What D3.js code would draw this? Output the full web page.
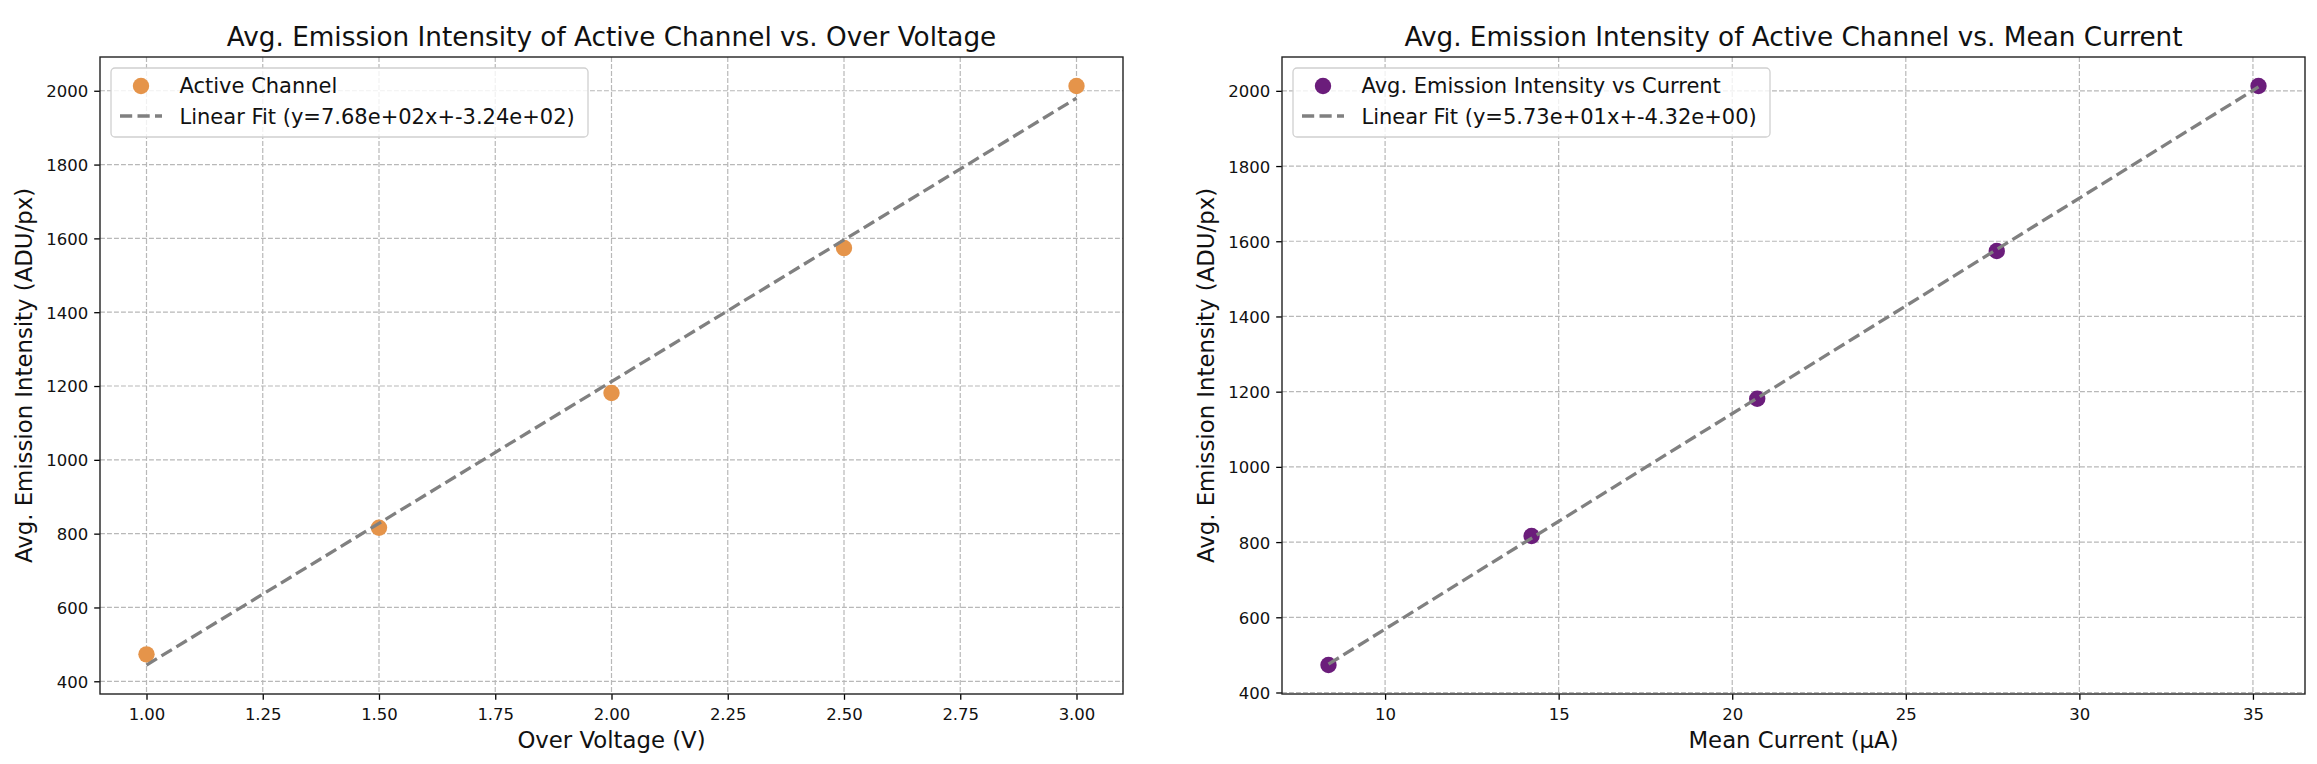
<!DOCTYPE html>
<html>
<head>
<meta charset="utf-8">
<script src="https://cdn.jsdelivr.net/npm/d3@7"></script>
<style>
  html, body { margin: 0; padding: 0; background: #fff; }
  svg { display: block; font-family: "DejaVu Sans", sans-serif; }
</style>
</head>
<body>
<svg id="chart" width="2317" height="764"></svg>
<script>
// ---------------- DATA ----------------
const overVoltage = [1.0, 1.5, 2.0, 2.5, 3.0];
const meanCurrent = [8.37, 14.22, 20.72, 27.62, 35.16];
const intensity = [473, 816, 1181, 1574, 2013];

const fitVoltage = [768, -324];     // slope, intercept
const fitCurrent = [57.3, -4.32];   // slope, intercept

const xTicksVoltage = [1.00, 1.25, 1.50, 1.75, 2.00, 2.25, 2.50, 2.75, 3.00];
const xTicksCurrent = [10, 15, 20, 25, 30, 35];
const yTicks = [400, 600, 800, 1000, 1200, 1400, 1600, 1800, 2000];

const titles = ["Avg. Emission Intensity of Active Channel vs. Over Voltage",
                "Avg. Emission Intensity of Active Channel vs. Mean Current"];
const xLabels = ["Over Voltage (V)", "Mean Current (\u00b5A)"];
const yLabel = "Avg. Emission Intensity (ADU/px)";
const pointLabels = ["Active Channel", "Avg. Emission Intensity vs Current"];
const fitLabels = ["Linear Fit (y=7.68e+02x+-3.24e+02)", "Linear Fit (y=5.73e+01x+-4.32e+00)"];
const pointColors = ["#e5944a", "#6b1d7b"];

// ---------------- LAYOUT ----------------
const svg = d3.select("#chart");
const panels = [
  {x0: 100, x1: 1123, y0: 57, y1: 694, xs: overVoltage, fit: fitVoltage, xticks: xTicksVoltage, fmt: d3.format(".2f"), legW: 477},
  {x0: 1282, x1: 2305, y0: 57, y1: 694, xs: meanCurrent, fit: fitCurrent, xticks: xTicksCurrent, fmt: d3.format("d"), legW: 477}
];

function pad(ext, frac) {
  const r = ext[1] - ext[0];
  return [ext[0] - r * frac, ext[1] + r * frac];
}

panels.forEach((p, i) => {
  const xExt = d3.extent(p.xs);
  const fitY = xExt.map(x => p.fit[0] * x + p.fit[1]);
  const yExt = d3.extent(intensity.concat(fitY));
  const x = d3.scaleLinear().domain(pad(xExt, 0.05)).range([p.x0, p.x1]);
  const y = d3.scaleLinear().domain(pad(yExt, 0.05)).range([p.y1, p.y0]);

  const g = svg.append("g");

  // grid
  g.append("g").selectAll("line").data(p.xticks).join("line")
    .attr("x1", d => x(d)).attr("x2", d => x(d))
    .attr("y1", p.y0).attr("y2", p.y1)
    .attr("stroke", "#b8b8b8").attr("stroke-width", 1.2)
    .attr("stroke-dasharray", "4.9,2.1");
  g.append("g").selectAll("line").data(yTicks).join("line")
    .attr("x1", p.x0).attr("x2", p.x1)
    .attr("y1", d => y(d)).attr("y2", d => y(d))
    .attr("stroke", "#b8b8b8").attr("stroke-width", 1.2)
    .attr("stroke-dasharray", "4.9,2.1");

  // points
  g.append("g").selectAll("circle").data(intensity).join("circle")
    .attr("cx", (d, k) => x(p.xs[k])).attr("cy", d => y(d))
    .attr("r", 8.2).attr("fill", pointColors[i]);

  // fit line
  const line = d3.line().x(d => x(d[0])).y(d => y(d[1]));
  g.append("path")
    .datum(xExt.map((xv, k) => [xv, fitY[k]]))
    .attr("d", line)
    .attr("fill", "none").attr("stroke", "#808080")
    .attr("stroke-width", 3.3).attr("stroke-dasharray", "12.2,5.3");

  // axes
  const xAxis = d3.axisBottom(x).tickValues(p.xticks).tickFormat(p.fmt)
    .tickSize(5.8).tickSizeOuter(0).tickPadding(8.6);
  const ax = g.append("g").attr("transform", `translate(0,${p.y1})`).call(xAxis);
  ax.select(".domain").remove();
  ax.selectAll("line").attr("stroke", "#000").attr("stroke-width", 1.3);
  ax.selectAll("text").attr("font-size", 16.5).attr("fill", "#111")
    .attr("font-family", "DejaVu Sans");

  const yAxis = d3.axisLeft(y).tickValues(yTicks).tickFormat(d3.format("d"))
    .tickSize(5.8).tickSizeOuter(0).tickPadding(6);
  const ay = g.append("g").attr("transform", `translate(${p.x0},0)`).call(yAxis);
  ay.select(".domain").remove();
  ay.selectAll("line").attr("stroke", "#000").attr("stroke-width", 1.3);
  ay.selectAll("text").attr("font-size", 16.5).attr("fill", "#111")
    .attr("dy", "0.36em").attr("font-family", "DejaVu Sans");

  // frame
  g.append("rect").attr("x", p.x0).attr("y", p.y0)
    .attr("width", p.x1 - p.x0).attr("height", p.y1 - p.y0)
    .attr("fill", "none").attr("stroke", "#222").attr("stroke-width", 1.4);

  // title & labels
  const cx = (p.x0 + p.x1) / 2;
  g.append("text").attr("x", cx).attr("y", 46).attr("text-anchor", "middle")
    .attr("font-size", 26.3).attr("fill", "#111").text(titles[i]);
  g.append("text").attr("x", cx).attr("y", 748).attr("text-anchor", "middle")
    .attr("font-size", 22.8).attr("fill", "#111").text(xLabels[i]);
  g.append("text")
    .attr("transform", `translate(${p.x0 - 68.5},${(p.y0 + p.y1) / 2}) rotate(-90)`)
    .attr("text-anchor", "middle").attr("font-size", 22.8).attr("fill", "#111")
    .text(yLabel);

  // legend
  const lx = p.x0 + 11, ly = 68;
  const leg = g.append("g");
  leg.append("rect").attr("x", lx).attr("y", ly).attr("width", p.legW).attr("height", 69)
    .attr("rx", 4).attr("fill", "#fff").attr("fill-opacity", 0.8)
    .attr("stroke", "#d0d0d0").attr("stroke-width", 1.3);
  leg.append("circle").attr("cx", lx + 30).attr("cy", 86).attr("r", 8.2).attr("fill", pointColors[i]);
  leg.append("line").attr("x1", lx + 9).attr("x2", lx + 51).attr("y1", 116).attr("y2", 116)
    .attr("stroke", "#808080").attr("stroke-width", 3.3).attr("stroke-dasharray", "12.2,5.3");
  leg.append("text").attr("x", lx + 68.5).attr("y", 93).attr("font-size", 21)
    .attr("fill", "#111").text(pointLabels[i]);
  leg.append("text").attr("x", lx + 68.5).attr("y", 123.5).attr("font-size", 21)
    .attr("fill", "#111").text(fitLabels[i]);
});
</script>
</body>
</html>
